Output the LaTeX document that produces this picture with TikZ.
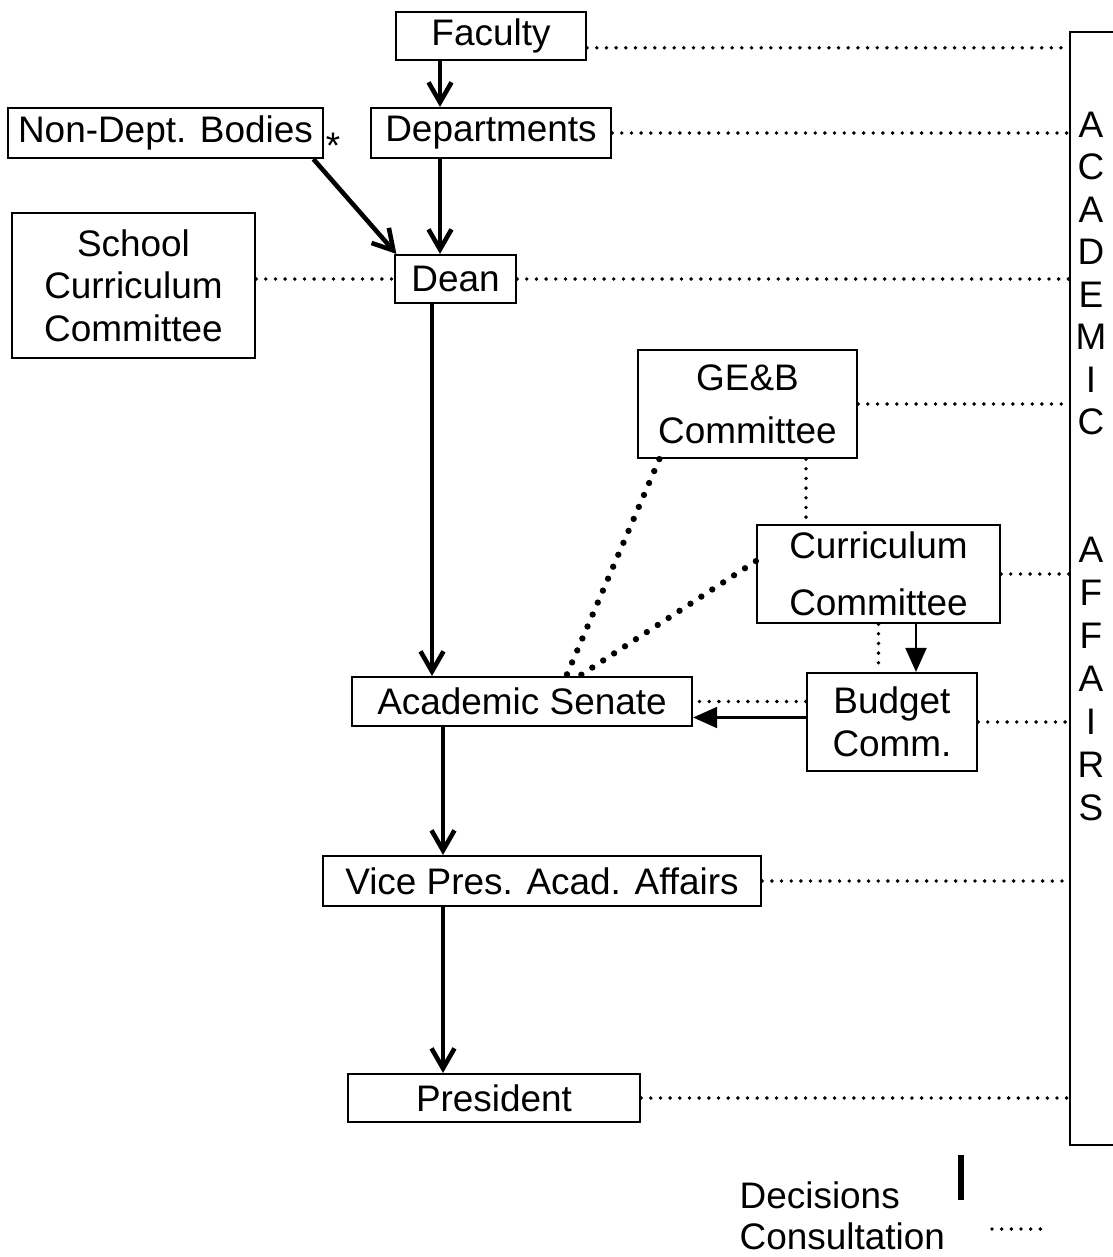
\documentclass[tikz,border=0pt]{standalone}
\usepackage{fontspec}
\setmainfont{Liberation Sans}
\usetikzlibrary{arrows.meta}

\tikzset{
  unit/.style={draw, line width=0.6pt, inner sep=0pt, align=center,
    font=\fontsize{10.5}{12.1}\selectfont},
  lbl/.style={inner sep=0pt, align=center, font=\fontsize{10.5}{12.1}\selectfont},
  decide/.style={line width=1.3pt, -{Straight Barb[length=2mm,width=2.3mm]}},
  decidethin/.style={line width=0.6pt, -{Triangle[length=2.4mm,width=2.1mm]}},
  consult/.style={line width=1.1pt, line cap=round, dash pattern=on 0pt off 2.75pt},
  consultbig/.style={line width=1.8pt, line cap=round, dash pattern=on 0pt off 3.7pt}
}

\begin{document}
\begin{tikzpicture}[x=0.01cm, y=-0.01cm]
  \useasboundingbox (0,0) rectangle (1113,1257);

  % Offices and bodies
  \node[unit, minimum width=1.90cm, minimum height=0.48cm] (faculty) at (491,36) {Faculty};
  \node[unit, minimum width=2.40cm, minimum height=0.50cm] (dept) at (491,133) {Departments};
  \node[unit, minimum width=3.15cm, minimum height=0.50cm] (nondept) at (165.5,133) {Non-Dept. Bodies};
  \node[lbl] (star) at (333,146) {*};
  \node[unit, minimum width=2.43cm, minimum height=1.45cm] (school) at (133.5,285.5)
    {School\\Curriculum\\Committee};
  \node[unit, minimum width=1.21cm, minimum height=0.48cm] (dean) at (455.5,279) {Dean};
  \node[unit, minimum width=2.19cm, minimum height=1.08cm] (geb) at (747.5,404)
    {GE\&B\\[3pt]Committee};
  \node[unit, minimum width=2.43cm, minimum height=0.98cm] (curr) at (878.5,574)
    {Curriculum\\[4pt]Committee};
  \node[unit, minimum width=3.40cm, minimum height=0.49cm] (senate) at (522,701.5) {Academic Senate};
  \node[unit, minimum width=1.70cm, minimum height=0.98cm] (budget) at (892,722)
    {Budget\\Comm.};
  \node[unit, minimum width=4.38cm, minimum height=0.50cm] (vp) at (542,881) {Vice Pres. Acad. Affairs};
  \node[unit, minimum width=2.92cm, minimum height=0.48cm] (pres) at (494,1098) {President};

  % Academic Affairs column
  \node[draw, line width=0.6pt, minimum width=0.80cm, minimum height=11.13cm] (aa) at (1110,588.5) {};
  \node[lbl] (acadlbl) at (1091,273.5) {A\\C\\A\\D\\E\\M\\I\\C};
  \node[lbl, font=\fontsize{10.5}{12.2}\selectfont] (affairslbl) at (1091,679) {A\\F\\F\\A\\I\\R\\S};

  % Decisions
  \coordinate (spineA) at (440,0);
  \coordinate (spineB) at (432,0);
  \coordinate (spineC) at (443,0);
  \coordinate (budgetx) at (916,0);
  \draw[decide] (faculty.south -| spineA) -- (dept.north -| spineA);
  \draw[decide] (dept.south -| spineA) -- (dean.north -| spineA);
  \draw[decide] (nondept.-10) -- (dean.157);
  \draw[decide] (dean.south -| spineB) -- (senate.north -| spineB);
  \draw[decide] (senate.south -| spineC) -- (vp.north -| spineC);
  \draw[decide] (vp.south -| spineC) -- (pres.north -| spineC);
  \draw[decidethin] (curr.south -| budgetx) -- (budget.north -| budgetx);
  \draw[decidethin] (budget.177) -- (senate.east |- budget.177);

  % Consultation
  \coordinate (gebx) at (806,0);
  \draw[consult] (faculty.-7) -- (faculty.-7 -| aa.west);
  \draw[consult] (dept.east) -- (dept.east -| aa.west);
  \draw[consult] (dean.east) -- (dean.east -| aa.west);
  \draw[consult] (school.east |- dean.west) -- (dean.west);
  \draw[consult] (geb.east) -- (geb.east -| aa.west);
  \draw[consult] (curr.east) -- (curr.east -| aa.west);
  \draw[consult] (budget.east) -- (budget.east -| aa.west);
  \draw[consult] (vp.east) -- (vp.east -| aa.west);
  \draw[consult] (pres.east) -- (pres.east -| aa.west);
  \draw[consult] (geb.south -| gebx) -- (curr.north -| gebx);
  \draw[consult] (curr.south) -- (budget.north -| curr.south);
  \draw[consult] (budget.west |- senate.east) -- (senate.east);
  \draw[consultbig] (geb.212) -- (senate.30);
  \draw[consultbig] (curr.174) -- (senate.24);

  % Legend
  \node[lbl, anchor=west] (decisions) at (739,1195) {Decisions};
  \node[lbl, anchor=west] (consultation) at (739,1236) {Consultation};
  \draw[line width=1.5pt] (961,1155) -- (961,1200);
  \draw[consult] (992,1229) -- (1050,1229);
\end{tikzpicture}
\end{document}
